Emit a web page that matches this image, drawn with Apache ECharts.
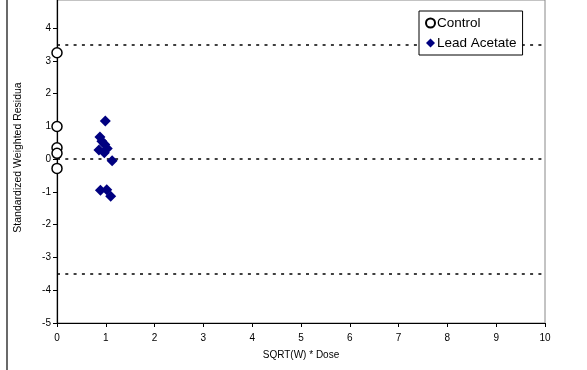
<!DOCTYPE html>
<html><head><meta charset="utf-8">
<script src="https://cdn.jsdelivr.net/npm/echarts@6/dist/echarts.min.js"></script>
<style>html,body{margin:0;padding:0;background:#fff}#c{width:587px;height:370px}</style>
</head><body><div id="c"></div>
<script>
var seriesNames = ['Control', 'Lead Acetate'];
var controlX = [0, 0, 0, 0, 0];
var controlY = [3.25, 1.0, 0.35, 0.18, -0.28];
var leadX = [0.99, 0.88, 0.92, 0.98, 1.03, 0.86, 0.97, 1.13, 0.89, 1.02, 1.10];
var leadY = [1.17, 0.68, 0.55, 0.45, 0.33, 0.28, 0.20, -0.05, -0.95, -0.93, -1.13];
var refLines = [3.5, 0, -3.5];
var xTitle = 'SQRT(W) * Dose';
var yTitle = 'Standardized Weighted Residua';

function pairs(xs, ys){ return xs.map(function(x,i){ return [x, ys[i]]; }); }

var font = 'Liberation Sans, Arial, sans-serif';
var chart = echarts.init(document.getElementById('c'), null, {renderer:'canvas'});
chart.setOption({
  animation: false,
  backgroundColor: '#fff',
  grid: { left: 57, right: 42, top: 0, bottom: 47, show: true, borderColor: '#888', borderWidth: 1, backgroundColor: 'transparent' },
  graphic: [{ type: 'line', shape: { x1: 7, y1: 0, x2: 7, y2: 370 }, style: { stroke: '#444', lineWidth: 1.6 } }],
  xAxis: {
    type: 'value', min: 0, max: 10, interval: 1,
    name: xTitle, nameLocation: 'middle', nameGap: 27,
    nameTextStyle: { fontSize: 10, color: '#000', fontFamily: font },
    axisLine: { show: true, onZero: false, lineStyle: { color: '#000', width: 1.2 } },
    axisTick: { show: true, length: 4, inside: false, lineStyle: { color: '#000' } },
    axisLabel: { fontSize: 10, color: '#000', fontFamily: font, margin: 10 },
    splitLine: { show: false }
  },
  yAxis: {
    type: 'value', min: -5, max: 4.86, interval: 1,
    name: yTitle, nameLocation: 'middle', nameGap: 33, nameRotate: 90,
    nameTextStyle: { fontSize: 10.5, color: '#000', fontFamily: font, padding: [0,0,0,8] },
    axisLine: { show: true, onZero: false, lineStyle: { color: '#000', width: 1.2 } },
    axisTick: { show: true, length: 4, inside: false, lineStyle: { color: '#000' } },
    axisLabel: { fontSize: 10, color: '#000', fontFamily: font, margin: 6, showMaxLabel: false },
    splitLine: { show: false }
  },
  legend: {
    orient: 'vertical', left: 419, top: 11, z: 20,
    backgroundColor: '#fff', borderColor: '#000', borderWidth: 1,
    padding: [5, 6, 5, 6], itemGap: 6, itemWidth: 9, itemHeight: 9,
    textStyle: { fontSize: 13.5, color: '#000', fontFamily: font, padding: [0,0,0,-3] },
    data: seriesNames
  },
  series: [
    {
      name: seriesNames[0], type: 'scatter', symbol: 'circle', symbolSize: 10, z: 3,
      itemStyle: { color: '#fff', borderColor: '#000', borderWidth: 1.5, opacity: 1 },
      data: pairs(controlX, controlY),
      markLine: {
        silent: true, symbol: 'none', label: { show: false }, z: 1,
        lineStyle: { color: '#000', type: [3, 5.3], width: 1.6 },
        data: refLines.map(function(v){ return { yAxis: v }; })
      }
    },
    {
      name: seriesNames[1], type: 'scatter', symbol: 'diamond', symbolSize: 11, z: 4,
      itemStyle: { color: '#000080', opacity: 1 },
      data: pairs(leadX, leadY)
    }
  ]
});
</script>
</body></html>
